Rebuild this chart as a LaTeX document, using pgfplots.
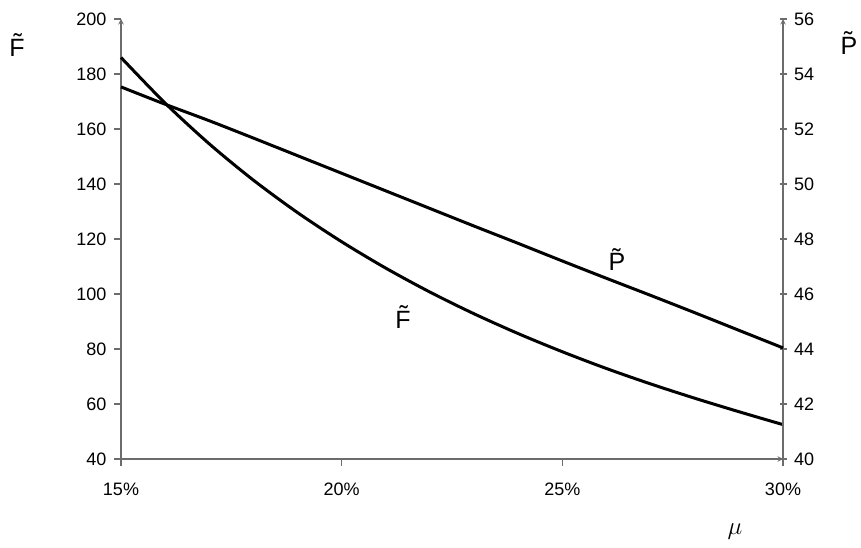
\documentclass[border=0pt]{standalone}
\usepackage{fontspec}
\setmainfont{Liberation Sans}
\usepackage{pgfplots}
\pgfplotsset{compat=1.18}

% letter followed by a combining tilde
\newcommand{\Ft}{F^^^^0303}
\newcommand{\Pt}{P^^^^0303}

\pgfplotstableread{
x   F
15  186
16  169.4
17  154.6
18  141.4
19  129.6
20  119.0
21  109.4
22  100.7
23  92.8
24  85.6
25  79.0
26  72.9
27  67.3
28  62.1
29  57.2
30  52.5
}\Fdata

\pgfplotstableread{
x   P
15  53.53
16  52.90
17  52.30
18  51.67
19  51.03
20  50.39
21  49.75
22  49.11
23  48.47
24  47.84
25  47.20
26  46.57
27  45.95
28  45.32
29  44.68
30  44.04
}\Pdata

\begin{document}
\begin{tikzpicture}
\useasboundingbox (-121pt,-89pt) rectangle (740pt,459pt);
\pgfplotsset{
  every axis/.append style={
    width=662pt, height=440pt, scale only axis,
    xmin=15, xmax=30,
    font=\fontsize{18}{21}\selectfont,
    /pgf/number format/assume math mode=true,
    axis line style={draw=gray!85!black, line width=1.4pt, -},
    major tick length=7pt,
    every tick/.style={draw=gray!85!black, line width=1.4pt},
  },
}
% left axis: F
\begin{axis}[
    axis x line=bottom, axis y line=left,
    ymin=40, ymax=200,
    ytick={40,60,...,200},
    xtick={15,20,25,30},
    xticklabels={15\%,20\%,25\%,30\%},
    tick align=outside,
    xticklabel style={yshift=-13pt},
    yticklabel style={xshift=-4pt},
    clip=false,
]
\addplot[black, line width=3pt, smooth] table[x=x, y=F] {\Fdata};
\node[font=\fontsize{25}{28}\selectfont] at (axis cs:21.39,91.6) {\Ft};
\end{axis}
% right axis: P
\begin{axis}[
    axis y line=right, axis x line=none,
    ymin=40, ymax=56,
    ytick={40,42,...,56},
    tick align=center,
    yticklabel style={xshift=4pt},
    clip=false,
]
\addplot[black, line width=3pt, smooth] table[x=x, y=P] {\Pdata};
\node[font=\fontsize{25}{28}\selectfont] at (axis cs:26.24,47.24) {\Pt};
\end{axis}
\node[font=\fontsize{25}{28}\selectfont] at (-104pt,414pt) {\Ft};
\node[font=\fontsize{25}{28}\selectfont] at (728pt,416pt) {\Pt};
\node[font=\fontsize{28}{32}\selectfont] at (614pt,-73pt) {$\mu$};
\end{tikzpicture}
\end{document}
